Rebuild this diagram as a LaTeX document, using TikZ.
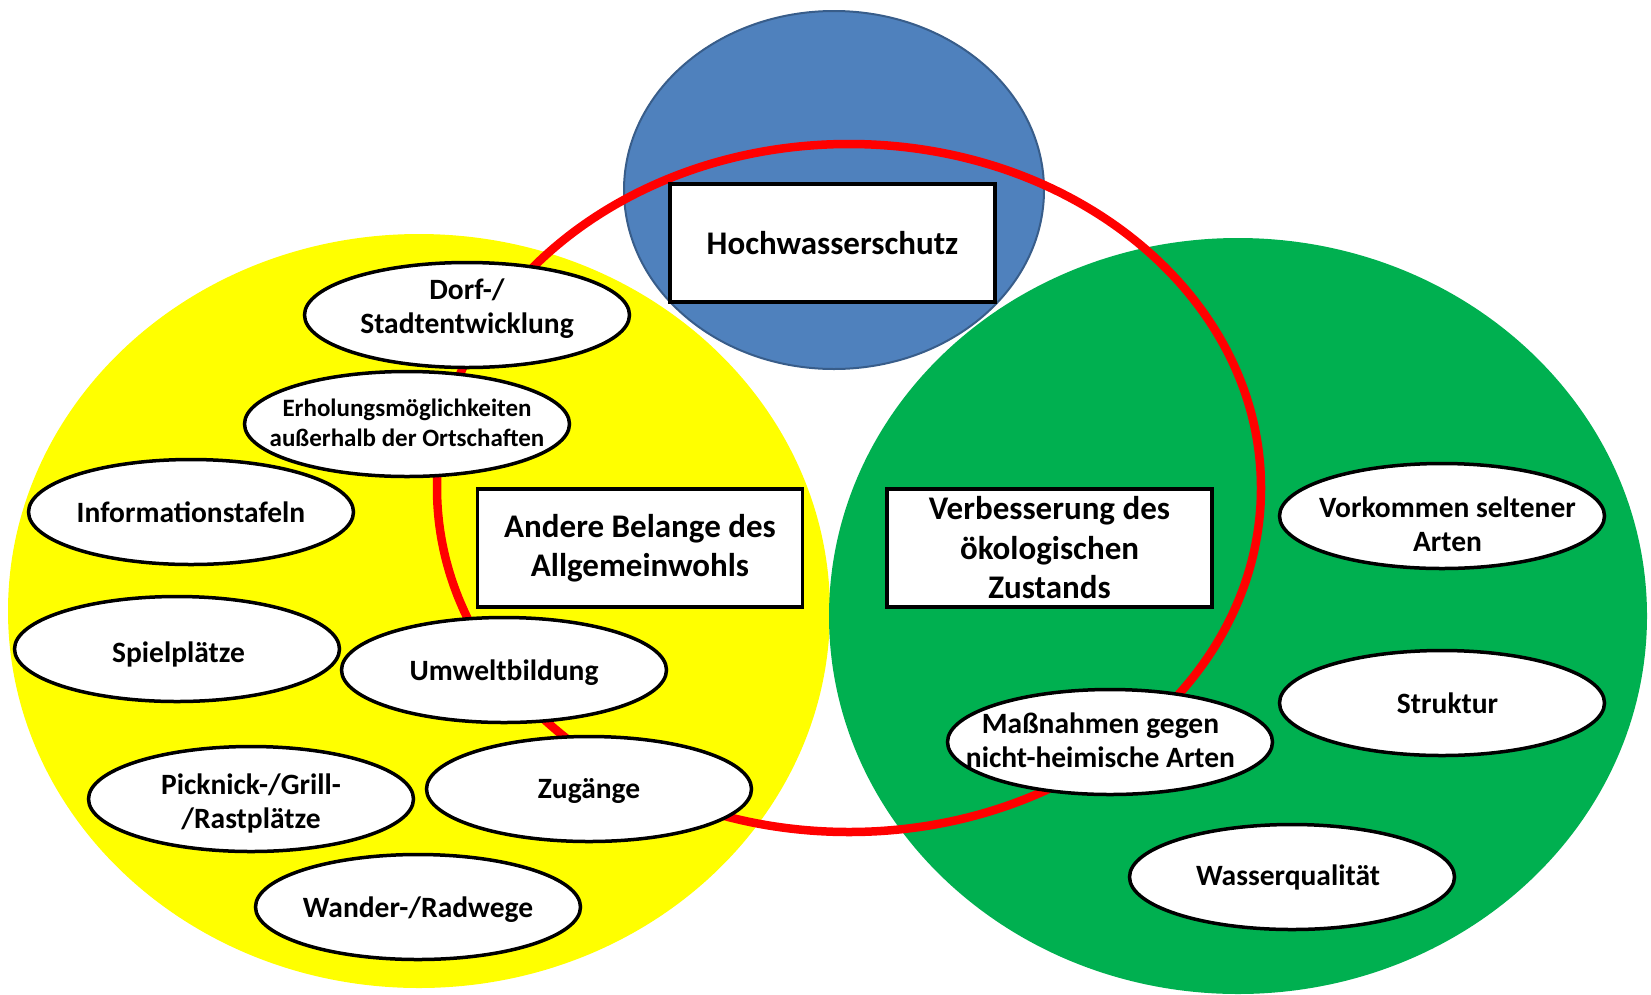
\documentclass[tikz,border=0pt]{standalone}
\usepackage{fontspec}
\setmainfont{Carlito}
\usetikzlibrary{shapes.geometric}
\definecolor{hwblue}{HTML}{4F81BD}
\definecolor{hwblueedge}{HTML}{385D8A}
\definecolor{agyellow}{HTML}{FFFF00}
\definecolor{oekgreen}{HTML}{00B050}
\definecolor{ringred}{HTML}{FF0000}
\tikzset{
  topic/.style={ellipse, draw=black, line width=3.5pt, fill=white,
    minimum width=325pt, minimum height=105pt, inner sep=0pt},
  topictext/.style={align=center, inner sep=0pt,
    font=\fontsize{29.5}{34}\selectfont\bfseries},
  smalltext/.style={topictext, font=\fontsize{25}{29.5}\selectfont\bfseries},
  goalbox/.style={rectangle, draw=black, line width=3.5pt, fill=white,
    minimum width=325pt, minimum height=118pt, inner sep=0pt,
    align=center, font=\fontsize{33}{39.5}\selectfont\bfseries}
}
\begin{document}
\begin{tikzpicture}[x=1pt,y=-1pt]
\useasboundingbox (0,0) rectangle (1651,994);
% big circles
\path[fill=hwblue, draw=hwblueedge, line width=2pt] (834,190) ellipse [x radius=210pt, y radius=179pt];
\path[fill=agyellow] (419,611) ellipse [x radius=411pt, y radius=377pt];
\path[fill=oekgreen] (1238,616) ellipse [x radius=409pt, y radius=378pt];
% red ring
\draw[ringred, line width=8.5pt] (849,488) ellipse [x radius=412pt, y radius=344pt];
% goal boxes
\node[goalbox] (hws) at (832.5,243) {Hochwasserschutz};
\node[goalbox] (agw) at (640,548) {Andere Belange des\\Allgemeinwohls};
\node[goalbox] (oek) at (1049.5,548) {Verbesserung des\\ökologischen\\Zustands};
% topics
\node[topic, label={[topictext,yshift=6pt]center:Dorf-/\\Stadtentwicklung}] (dorf) at (467,315) {};
\node[topic, label={[smalltext,yshift=1pt]center:Erholungsmöglichkeiten\\außerhalb der Ortschaften}] (erh) at (407,424) {};
\node[topic, label={[topictext]center:Informationstafeln}] (info) at (191,512) {};
\node[topic, label={[topictext,yshift=-5pt,xshift=1.5pt]center:Spielplätze}] (spiel) at (177,649) {};
\node[topic, label={[topictext,yshift=-3pt]center:Umweltbildung}] (umw) at (504,670) {};
\node[topic, label={[topictext,yshift=-4.5pt]center:Picknick-/Grill-\\/Rastplätze}] (pick) at (251,799) {};
\node[topic, label={[topictext,yshift=-2pt]center:Zugänge}] (zug) at (589,789) {};
\node[topic, label={[topictext,yshift=-3pt]center:Wander-/Radwege}] (wand) at (418,907) {};
\node[topic, label={[topictext,yshift=-8pt,xshift=5.5pt]center:Vorkommen seltener\\Arten}] (vork) at (1442,516) {};
\node[topic, label={[topictext,xshift=5.5pt]center:Struktur}] (strk) at (1442,703) {};
\node[topic, label={[topictext,yshift=1.5pt,xshift=-9.5pt]center:Maßnahmen gegen\\nicht-heimische Arten}] (mass) at (1110,742) {};
\node[topic, label={[topictext,xshift=-4pt]center:Wasserqualität}] (wasq) at (1292,877) {};
\end{tikzpicture}
\end{document}
